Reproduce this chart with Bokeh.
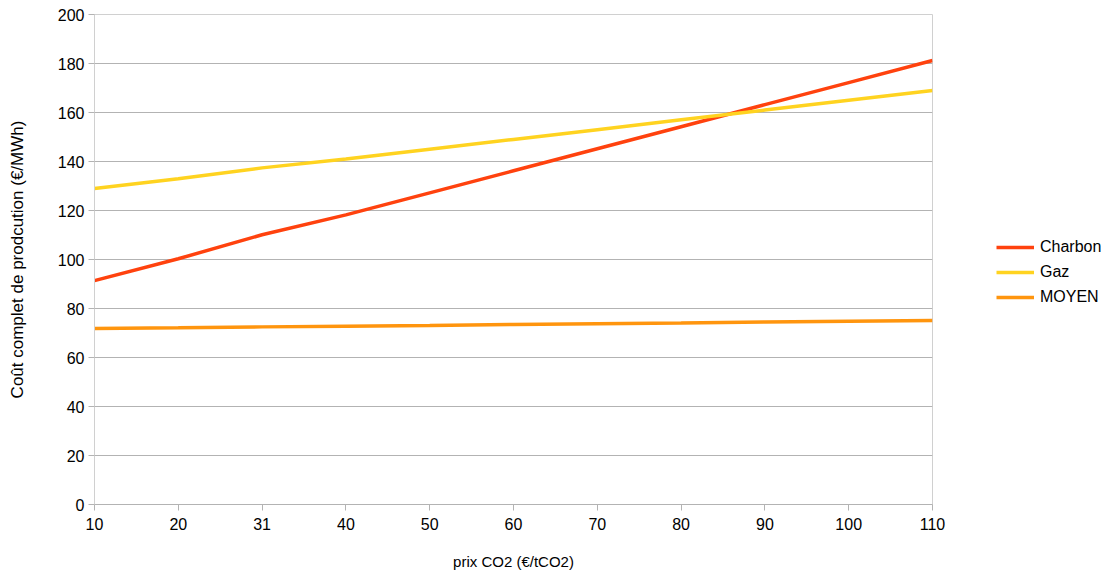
from bokeh.plotting import figure
from bokeh.models import ColumnDataSource, Range1d, FixedTicker, Legend, LegendItem
from bokeh.embed import file_html
from bokeh.resources import INLINE

prix_co2 = ["10", "20", "31", "40", "50", "60", "70", "80", "90", "100", "110"]
charbon = [91.4, 100.3, 110.1, 118.2, 127.2, 136.2, 145.2, 154.2, 163.2, 172.2, 181.2]
gaz = [129.0, 133.0, 137.4, 141.0, 145.0, 149.0, 153.0, 157.0, 161.0, 165.0, 169.0]
moyen = [71.8, 72.1, 72.5, 72.8, 73.1, 73.5, 73.8, 74.1, 74.5, 74.8, 75.1]

idx = list(range(len(prix_co2)))
src = ColumnDataSource(dict(x=idx, charbon=charbon, gaz=gaz, moyen=moyen))

FONT = "Liberation Sans"

p = figure(frame_width=838, frame_height=490, min_border_left=94, min_border_top=14,
           min_border_bottom=60, min_border_right=0,
           output_backend="svg", toolbar_location=None,
           x_range=Range1d(0, len(prix_co2) - 1), y_range=Range1d(0, 200))
p.background_fill_color = "white"
p.border_fill_color = "white"
p.outline_line_color = "#d0d0d0"

r1 = p.line("x", "charbon", source=src, line_color="#ff420e", line_width=3.5)
r2 = p.line("x", "gaz", source=src, line_color="#ffd320", line_width=3.5)
r3 = p.line("x", "moyen", source=src, line_color="#ff950e", line_width=3.5)

p.xaxis.ticker = FixedTicker(ticks=idx)
p.xaxis.major_label_overrides = {i: lab for i, lab in enumerate(prix_co2)}
p.yaxis.ticker = FixedTicker(ticks=list(range(0, 201, 20)))

p.xgrid.grid_line_color = None
p.ygrid.grid_line_color = "#b3b3b3"
p.ygrid.grid_line_width = 1

for ax in (p.xaxis[0], p.yaxis[0]):
    ax.major_label_text_font = FONT
    ax.major_label_text_font_size = "16px"
    ax.major_label_text_color = "#000000"
    ax.axis_label_text_font = FONT
    ax.axis_label_text_font_size = "15px"
    ax.axis_label_text_font_style = "normal"
    ax.axis_label_text_color = "#000000"
    ax.minor_tick_line_color = None
    ax.major_tick_in = 0
    ax.major_tick_out = 6
    ax.major_tick_line_color = "#b3b3b3"

p.yaxis.axis_label_text_font_size = "17px"
p.xaxis.axis_line_color = "#b3b3b3"
p.yaxis.axis_line_color = "#d0d0d0"
p.xaxis.major_label_standoff = 7
p.yaxis.major_label_standoff = 4
p.xaxis.axis_label = "prix CO2 (€/tCO2)"
p.yaxis.axis_label = "Coût complet de prodcution (€/MWh)"
p.xaxis.axis_label_standoff = 20
p.yaxis.axis_label_standoff = 28

legend = Legend(items=[LegendItem(label="Charbon", renderers=[r1]),
                       LegendItem(label="Gaz", renderers=[r2]),
                       LegendItem(label="MOYEN", renderers=[r3])],
                location=(64, 197))
legend.border_line_color = None
legend.background_fill_alpha = 0
legend.label_text_font = FONT
legend.label_text_font_size = "16px"
legend.label_text_color = "#000000"
legend.glyph_width = 38
legend.glyph_height = 20
legend.label_height = 20
legend.spacing = 5
legend.padding = 4
legend.margin = 0
legend.label_standoff = 6
p.add_layout(legend, "right")

open("out.html", "w").write(file_html(p, INLINE))
